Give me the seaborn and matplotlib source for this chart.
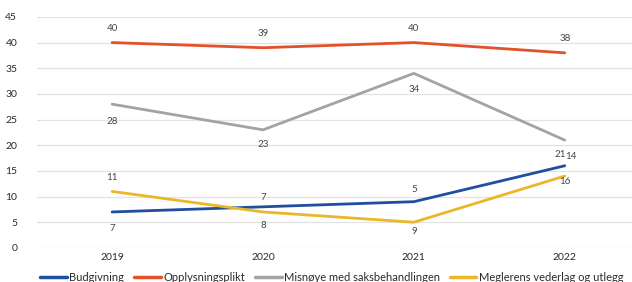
import matplotlib.pyplot as plt
import seaborn as sns
import pandas as pd

years = ['2019', '2020', '2021', '2022']
series_names = ['Budgivning', 'Opplysningsplikt', 'Misnøye med saksbehandlingen',
                'Meglerens vederlag og utlegg']
budgivning = [7, 8, 9, 16]
opplysningsplikt = [40, 39, 40, 38]
misnoye = [28, 23, 34, 21]
vederlag = [11, 7, 5, 14]

colors = ['#1f4f9e', '#e2512a', '#a3a3a3', '#e9b728']
# label offsets in pixels (dx, dy) for each point of each series
label_offsets = [
    [(0, -17), (0, -19), (0, -30), (0, -16)],
    [(0, 14), (0, 14), (0, 14), (0, 14)],
    [(0, -17), (0, -15), (0, -16), (-5, -14)],
    [(0, 14), (0, 14), (0, 33), (6, 20)],
]

values = [budgivning, opplysningsplikt, misnoye, vederlag]
rows = []
for name, vals in zip(series_names, values):
    for i, v in enumerate(vals):
        rows.append({'Year': years[i], 'x': i, 'Value': v, 'Serie': name})
df = pd.DataFrame(rows)

sns.set_theme(style='white')
plt.rcParams['font.family'] = ['Lato', 'DejaVu Sans']

fig = plt.figure(figsize=(6.32, 2.82), dpi=100)
ax = fig.add_axes([0.058, 0.121, 0.955, 0.819])

sns.lineplot(data=df, x='x', y='Value', hue='Serie', hue_order=series_names,
             palette=colors, linewidth=2, ax=ax, legend=False)

for name, vals, offs in zip(series_names, values, label_offsets):
    for i, v in enumerate(vals):
        ax.annotate(str(v), (i, v), xytext=offs[i], textcoords='offset pixels',
                    ha='center', va='center', fontsize=7, color='#454545')

ax.set_xlim(-0.5, 3.5)
ax.set_ylim(0, 45)
ax.set_yticks(range(0, 46, 5))
ax.set_xticks(range(len(years)))
ax.set_xticklabels(years)
ax.grid(axis='y', color='#e2e2e2', linewidth=0.9)
ax.set_axisbelow(True)
for s in ax.spines.values():
    s.set_visible(False)
ax.tick_params(axis='y', labelsize=7.5, colors='#2a2a2a', pad=14, length=0)
ax.tick_params(axis='x', labelsize=7.5, colors='#2a2a2a', pad=4, length=0)
ax.set_xlabel('')
ax.set_ylabel('')

handles = [plt.Line2D([], [], color=c, linewidth=2.5) for c in colors]
fig.legend(handles, series_names, loc='center', bbox_to_anchor=(0.525, 0.015),
           ncol=4, frameon=False, fontsize=8, handlelength=2.4,
           handletextpad=0.2, columnspacing=0.9, labelcolor='#2a2a2a')

fig.savefig('out.png', dpi=100)
